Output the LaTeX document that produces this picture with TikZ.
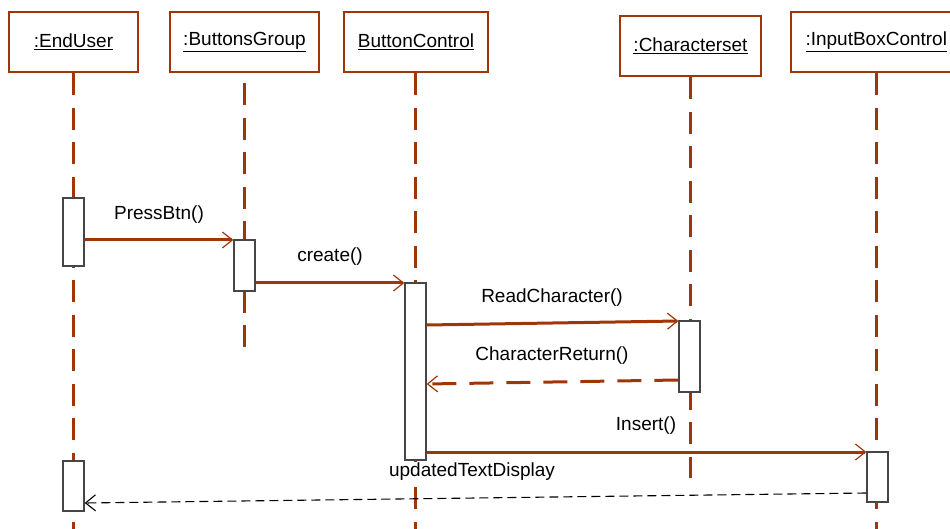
\documentclass[tikz,border=0pt]{standalone}
\usepackage{fontspec}
\setmainfont{Liberation Sans}
\usetikzlibrary{arrows.meta}
\definecolor{umlbrown}{RGB}{158,54,8}
\definecolor{actgray}{RGB}{70,70,70}
\tikzset{
  headbox/.style={draw=umlbrown, line width=2.8pt, fill=white, minimum height=60pt, inner sep=0pt, font=\fontsize{19}{22}\selectfont},
  lifeline/.style={draw=umlbrown, line width=3pt, dash pattern=on 22pt off 12.5pt},
  actbox/.style={draw=actgray, line width=1.3pt, fill=white, minimum width=21pt, inner sep=0pt},
  msg/.style={draw=umlbrown, line width=3pt, -{Straight Barb[length=10pt,width=16pt,line width=1.2pt]}},
  ret/.style={msg, dash pattern=on 24pt off 13pt},
  ret2/.style={draw=black, line width=1.1pt, dash pattern=on 9pt off 5pt, -{Straight Barb[length=10pt,width=16pt,line width=1.1pt]}},
  lbl/.style={font=\fontsize{19}{22}\selectfont, inner sep=0pt}
}
\begin{document}
\begin{tikzpicture}[x=1pt,y=-1pt]
\useasboundingbox (0,0) rectangle (950,529);
\clip (0,0) rectangle (950,529);
% heads
\node[headbox, minimum width=129pt] (eu) at (73.5,42) {\underline{:EndUser}};
\node[headbox, minimum width=149pt] (bg) at (244.5,42) {\underline{:ButtonsGroup}};
\node[headbox, minimum width=144pt] (bc) at (416,42) {\underline{ButtonControl}};
\node[headbox, minimum width=141pt] (cs) at (690.5,46) {\underline{:Characterset}};
\node[headbox, minimum width=189pt, text width=160pt, align=left] (ib) at (885.5,42) {\underline{:InputBoxControl}};
% lifelines
\coordinate (euend) at (73,529);
\coordinate (bgend) at (244,347);
\coordinate (bcend) at (415,529);
\coordinate (csend) at (690,478);
\coordinate (ibend) at (876,529);
\draw[lifeline] (eu.south -| euend) -- (euend);
\draw[lifeline] (bgend) -- (bg.south -| bgend);
\draw[lifeline] (bc.south -| bcend) -- (bcend);
\draw[lifeline] (cs.south -| csend) -- (csend);
\draw[lifeline] (ib.south -| ibend) -- (ibend);
% activations
\node[actbox, minimum height=68pt] (a1) at (73.5,232) {};
\node[actbox, minimum height=51pt] (a2) at (244.5,265.5) {};
\node[actbox, minimum height=177pt] (a3) at (415.5,371.5) {};
\node[actbox, minimum height=71pt] (a4) at (689.5,356.5) {};
\node[actbox, minimum height=50pt] (a5) at (877.5,477) {};
\node[actbox, minimum height=50pt] (a6) at (73.5,486) {};
% messages
\draw[msg] (a1.east |- 0,240) -- (a2.west |- 0,240);
\node[lbl] (l1) at (159,215) {PressBtn()};
\draw[msg] (a2.east |- 0,283) -- (a3.west |- 0,283);
\node[lbl] (l2) at (330,257) {create()};
\draw[msg] (a3.east |- 0,325) -- (a4.west |- 0,321);
\node[lbl] (l3) at (552,298) {ReadCharacter()};
\draw[ret] (a4.west |- 0,380) -- (a3.east |- 0,384);
\node[lbl] (l4) at (552,356) {CharacterReturn()};
\draw[msg] (a3.east |- 0,452) -- (a5.west |- 0,452);
\node[lbl] (l5) at (646,426) {Insert()};
\node[lbl, fill=white, inner sep=1pt] (l6) at (472,472) {updatedTextDisplay};
\draw[ret2] (a5.west |- 0,493) -- (a6.east |- 0,503);
\end{tikzpicture}
\end{document}
